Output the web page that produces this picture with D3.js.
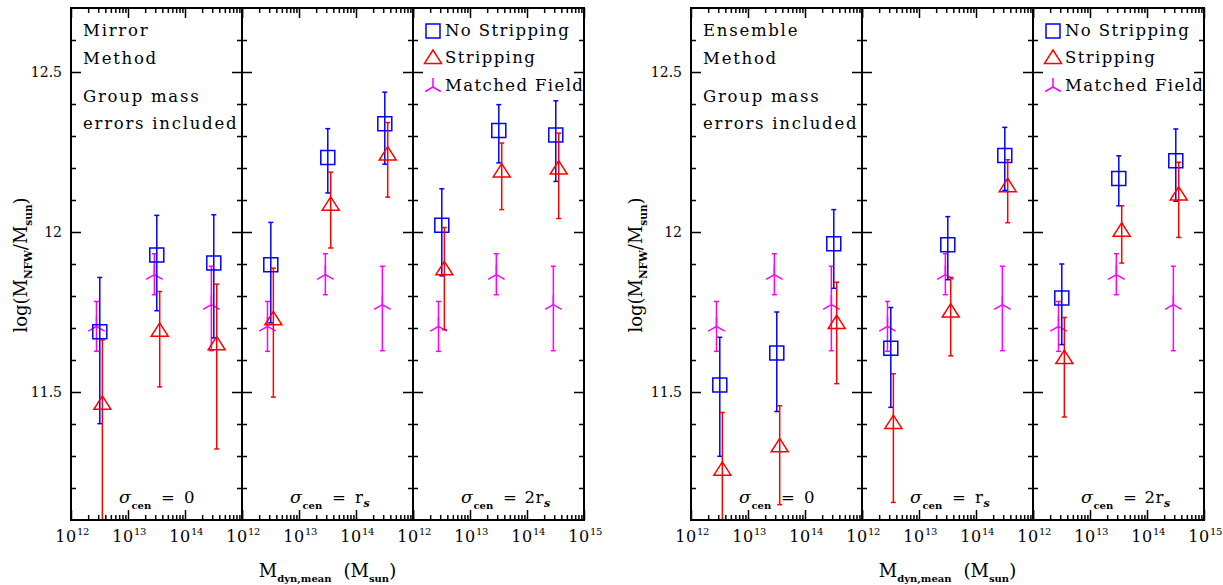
<!DOCTYPE html>
<html><head><meta charset="utf-8">
<script src="https://cdn.jsdelivr.net/npm/d3@7"></script>
<style>
body{margin:0;background:#fff;}
svg{display:block;font-family:"DejaVu Serif",serif;}
</style></head><body>
<svg id="chart" width="1223" height="585"></svg>
<script>
// ---------------- data ----------------
const methods = ["Mirror", "Ensemble"];
const noteLines = ["Method", "Group mass", "errors included"];
const sigmaValues = ["0", "r_s", "2r_s"];
const legendLabels = ["No Stripping", "Stripping", "Matched Field"];
const yMajorTicks = [11.5, 12, 12.5];
const yTickLabels = ["11.5", "12", "12.5"];
const xDecades = [1e12, 1e13, 1e14, 1e15];
const xTickExponents = ["12", "13", "14", "15"];

// x positions (dynamical group mass, Msun)
const massNoStrip = [3.2e12, 3.2e13, 3.2e14];
const massStrip = [3.55e12, 3.6e13, 3.6e14];
const massField = [2.8e12, 2.9e13, 2.9e14];

// Matched field (same in every panel)
const fieldVal = [11.705, 11.867, 11.773];
const fieldLo  = [11.627, 11.804, 11.629];
const fieldHi  = [11.783, 11.932, 11.893];

// Mirror method, panels sigma_cen = 0, r_s, 2r_s
const mirrorNoStripVal = [[11.688, 11.928, 11.903], [11.898, 12.233, 12.338], [12.021, 12.317, 12.303]];
const mirrorNoStripLo  = [[11.401, 11.754, 11.669], [11.716, 12.122, 12.212], [11.863, 12.216, 12.158]];
const mirrorNoStripHi  = [[11.858, 12.052, 12.054], [12.030, 12.323, 12.437], [12.135, 12.398, 12.410]];
const mirrorStripVal   = [[11.467, 11.695, 11.653], [11.731, 12.089, 12.246], [11.887, 12.193, 12.202]];
const mirrorStripLo    = [[10.900, 11.516, 11.322], [11.484, 11.950, 12.109], [11.695, 12.070, 12.042]];
const mirrorStripHi    = [[11.663, 11.814, 11.837], [11.887, 12.187, 12.342], [12.014, 12.278, 12.309]];

// Ensemble method
const ensNoStripVal = [[11.522, 11.622, 11.963], [11.637, 11.960, 12.239], [11.794, 12.167, 12.223]];
const ensNoStripLo  = [[11.299, 11.439, 11.824], [11.452, 11.851, 12.130], [11.648, 12.082, 12.096]];
const ensNoStripHi  = [[11.671, 11.750, 12.070], [11.764, 12.048, 12.327], [11.900, 12.238, 12.322]];
const ensStripVal   = [[11.261, 11.334, 11.719], [11.407, 11.755, 12.147], [11.610, 12.008, 12.121]];
const ensStripLo    = [[10.900, 11.148, 11.526], [11.155, 11.613, 12.029], [11.422, 11.903, 11.983]];
const ensStripHi    = [[11.436, 11.457, 11.843], [11.557, 11.858, 12.226], [11.733, 12.082, 12.218]];

// ---------------- layout ----------------
const BLUE = "#0000ff", RED = "#ff0000", MAG = "#ff00ff";
const PW = 171, TOP = 8, BOT = 520;
const TXT = 16.5;
const svg = d3.select("#chart");
const y = d3.scaleLinear().domain([11.1, 12.7]).range([BOT, TOP]);

const figs = [
  {x0: 71, ylabX: 27, method: methods[0],
   nsV: mirrorNoStripVal, nsL: mirrorNoStripLo, nsH: mirrorNoStripHi,
   sV: mirrorStripVal, sL: mirrorStripLo, sH: mirrorStripHi},
  {x0: 691, ylabX: 642, method: methods[1],
   nsV: ensNoStripVal, nsL: ensNoStripLo, nsH: ensNoStripHi,
   sV: ensStripVal, sL: ensStripLo, sH: ensStripHi}
];

const sqPath = "M-7,-7H7V7H-7Z";
const triPath = "M0,-6.7L8.5,6.7L-8.5,6.7Z";
function starPath(L) {
  const dx = L * Math.sin(Math.PI / 3), dy = L * 0.5;
  return `M0,0V${-L}M0,0L${-dx},${dy}M0,0L${dx},${dy}`;
}

const yMinor = d3.range(11.2, 12.65, 0.1).map(v => +v.toFixed(1)).filter(v => !yMajorTicks.includes(v));
const xMinor = [];
xDecades.slice(0, 3).forEach(d => { for (let k = 2; k <= 9; k++) xMinor.push(d * k); });

function styleAxis(g) {
  g.select(".domain").remove();
  g.selectAll(".tick line").attr("stroke", "#000").attr("stroke-width", 1.5);
  g.selectAll(".tick text").remove();
}

let clipId = 0;
figs.forEach((f, fi) => {
  const fg = svg.append("g");
  for (let p = 0; p < 3; p++) {
    const px0 = f.x0 + p * PW, px1 = px0 + PW;
    const x = d3.scaleLog().domain([1e12, 1e15]).range([px0, px1]);
    const pg = fg.append("g");

    // axes (ticks inward on all sides)
    [[d3.axisBottom, BOT, xDecades, 10], [d3.axisBottom, BOT, xMinor, 5],
     [d3.axisTop, TOP, xDecades, 10], [d3.axisTop, TOP, xMinor, 5]].forEach(([ax, yy, tv, len]) => {
      pg.append("g").attr("transform", `translate(0,${yy})`)
        .call(ax(x).tickValues(tv).tickSize(-len)).call(styleAxis);
    });
    [[d3.axisLeft, px0, yMajorTicks, 10], [d3.axisLeft, px0, yMinor, 5],
     [d3.axisRight, px1, yMajorTicks, 10], [d3.axisRight, px1, yMinor, 5]].forEach(([ax, xx, tv, len]) => {
      pg.append("g").attr("transform", `translate(${xx},0)`)
        .call(ax(y).tickValues(tv).tickSize(-len)).call(styleAxis);
    });

    // x tick labels
    const labIdx = p === 2 ? [0, 1, 2, 3] : [0, 1, 2];
    labIdx.forEach(i => {
      const t = pg.append("text").attr("x", x(xDecades[i]) + 1).attr("y", 542)
        .attr("text-anchor", "middle").attr("font-size", 16);
      t.append("tspan").attr("letter-spacing", "0.8px").text("10");
      t.append("tspan").attr("font-size", 10).attr("letter-spacing", "-0.5px").attr("dy", -7).text(xTickExponents[i]);
    });

    // data
    const cid = "clip" + (clipId++);
    pg.append("clipPath").attr("id", cid).append("rect")
      .attr("x", px0).attr("y", TOP).attr("width", PW).attr("height", BOT - TOP);
    const dg = pg.append("g").attr("clip-path", `url(#${cid})`);

    function errBars(xs, lo, hi, color) {
      const g = dg.append("g").attr("stroke", color).attr("stroke-width", 1.5).attr("fill", "none");
      xs.forEach((m, i) => {
        const xx = x(m);
        g.append("line").attr("x1", xx).attr("x2", xx).attr("y1", y(lo[i])).attr("y2", y(hi[i]));
        g.append("line").attr("x1", xx - 2.5).attr("x2", xx + 2.5).attr("y1", y(lo[i])).attr("y2", y(lo[i]));
        g.append("line").attr("x1", xx - 2.5).attr("x2", xx + 2.5).attr("y1", y(hi[i])).attr("y2", y(hi[i]));
      });
    }
    function markers(xs, vals, path, color) {
      dg.append("g").selectAll("path").data(vals).join("path")
        .attr("d", path).attr("fill", "none").attr("stroke", color).attr("stroke-width", 1.5)
        .attr("transform", (v, i) => `translate(${x(xs[i])},${y(v)})`);
    }
    errBars(massField, fieldLo, fieldHi, MAG);
    markers(massField, fieldVal, starPath(9.5), MAG);
    errBars(massNoStrip, f.nsL[p], f.nsH[p], BLUE);
    markers(massNoStrip, f.nsV[p], sqPath, BLUE);
    errBars(massStrip, f.sL[p], f.sH[p], RED);
    markers(massStrip, f.sV[p], triPath, RED);

    // frame
    pg.append("rect").attr("x", px0).attr("y", TOP).attr("width", PW).attr("height", BOT - TOP)
      .attr("fill", "none").attr("stroke", "#000").attr("stroke-width", 2);

    // sigma label
    const sx = px0 + 48;
    const st = pg.append("text").attr("y", 503).attr("font-size", TXT);
    st.append("tspan").attr("x", sx).attr("font-style", "italic").attr("font-size", 17.5).text("σ");
    st.append("tspan").attr("x", sx + 12.5).attr("dy", 5.5).attr("font-weight", "bold").attr("font-size", 10).text("cen");
    st.append("tspan").attr("x", sx + 42).attr("dy", -5.5).text("=");
    const sv = sigmaValues[p];
    if (sv === "0") {
      st.append("tspan").attr("x", sx + 65).text("0");
    } else {
      const pre = sv.replace("_s", "");
      st.append("tspan").attr("x", sx + (pre.length > 1 ? 63.5 : 65)).attr("letter-spacing", "0.5px").text(pre);
      st.append("tspan").attr("dy", 4).attr("font-style", "italic").attr("font-weight", "bold").attr("font-size", 11).text("s");
    }

    // legend in last panel
    if (p === 2) {
      const lx = px0 + 20, tx = px0 + 32;
      const rows = [[36, 31, sqPath, BLUE], [63, 56.7, triPath, RED], [91, 87, starPath(9), MAG]];
      rows.forEach(([by, cy, path, col], i) => {
        pg.append("path").attr("d", path).attr("transform", `translate(${lx},${cy})`)
          .attr("fill", "none").attr("stroke", col).attr("stroke-width", 1.5);
        pg.append("text").attr("x", tx).attr("y", by).attr("font-size", TXT)
          .attr("letter-spacing", "1.4px").text(legendLabels[i]);
      });
    }
  }

  // method / notes text
  const notes = [f.method, ...noteLines];
  const ny = [36, 64, 102, 129];
  notes.forEach((t, i) => {
    fg.append("text").attr("x", f.x0 + 12).attr("y", ny[i]).attr("font-size", TXT)
      .attr("letter-spacing", "1.75px").text(t);
  });

  // y tick labels
  yMajorTicks.forEach((v, i) => {
    fg.append("text").attr("x", f.x0 - 9).attr("y", y(v) + 5).attr("text-anchor", "end")
      .attr("font-size", 14).text(yTickLabels[i]);
  });

  // y axis label
  const yl = fg.append("text").attr("transform", `translate(${f.ylabX},265) rotate(-90)`)
    .attr("text-anchor", "middle").attr("font-size", 18);
  yl.append("tspan").text("log(M");
  yl.append("tspan").attr("dy", 5).attr("font-size", 10.5).attr("font-weight", "bold").text("NFW");
  yl.append("tspan").attr("dy", -5).text("/M");
  yl.append("tspan").attr("dy", 5).attr("font-size", 10.5).attr("font-weight", "bold").text("sun");
  yl.append("tspan").attr("dy", -5).text(")");

  // x axis label
  const xl = fg.append("text").attr("x", f.x0 + 1.5 * PW).attr("y", 577)
    .attr("text-anchor", "middle").attr("font-size", 18);
  xl.append("tspan").text("M");
  xl.append("tspan").attr("dy", 5).attr("font-size", 10).attr("font-weight", "bold").text("dyn,mean");
  xl.append("tspan").attr("dy", -5).attr("dx", 12).text("(M");
  xl.append("tspan").attr("dy", 5).attr("font-size", 10).attr("font-weight", "bold").text("sun");
  xl.append("tspan").attr("dy", -5).text(")");
});
</script>
</body></html>
